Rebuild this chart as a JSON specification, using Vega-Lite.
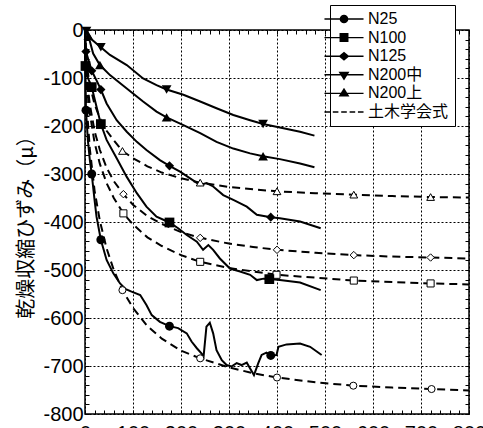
{
  "$schema": "https://vega.github.io/schema/vega-lite/v6.json",
  "width": 384,
  "height": 384,
  "autosize": {"type": "none"},
  "padding": {"left": 85, "top": 30, "right": 14, "bottom": 14},
  "background": "white",
  "config": {
    "font": "Liberation Sans",
    "view": {"stroke": "black", "strokeWidth": 1.5},
    "axis": {
      "domain": false,
      "tickColor": "black",
      "tickWidth": 1,
      "tickSize": -4,
      "labelColor": "black",
      "labelFont": "Liberation Sans",
      "labelFontSize": 20,
      "labelOverlap": false,
      "labelFlush": false,
      "gridColor": "black",
      "gridDash": [2, 2],
      "gridWidth": 1
    },
    "legend": {
      "orient": "none",
      "legendX": 245,
      "legendY": -25,
      "title": null,
      "padding": 6,
      "strokeColor": "black",
      "fillColor": "white",
      "symbolSize": 196,
      "symbolStrokeWidth": 1.4,
      "symbolFillColor": "black",
      "symbolStrokeColor": "black",
      "symbolOpacity": 1,
      "labelFont": "Liberation Sans, Noto Sans CJK JP",
      "labelFontSize": 16,
      "labelColor": "black",
      "labelOffset": 16,
      "rowPadding": 2.6
    }
  },
  "datasets": {
    "curves": [
      {"series": "N25", "curve": "N25", "day": 0, "strain": 0},
      {"series": "N25", "curve": "N25", "day": 2, "strain": -167},
      {"series": "N25", "curve": "N25", "day": 6, "strain": -230},
      {"series": "N25", "curve": "N25", "day": 10, "strain": -270},
      {"series": "N25", "curve": "N25", "day": 14, "strain": -300},
      {"series": "N25", "curve": "N25", "day": 20, "strain": -355},
      {"series": "N25", "curve": "N25", "day": 24, "strain": -389},
      {"series": "N25", "curve": "N25", "day": 33, "strain": -437},
      {"series": "N25", "curve": "N25", "day": 45, "strain": -479},
      {"series": "N25", "curve": "N25", "day": 59, "strain": -507},
      {"series": "N25", "curve": "N25", "day": 73, "strain": -528},
      {"series": "N25", "curve": "N25", "day": 85, "strain": -540},
      {"series": "N25", "curve": "N25", "day": 97, "strain": -545},
      {"series": "N25", "curve": "N25", "day": 115, "strain": -552},
      {"series": "N25", "curve": "N25", "day": 128, "strain": -573},
      {"series": "N25", "curve": "N25", "day": 139, "strain": -594},
      {"series": "N25", "curve": "N25", "day": 156, "strain": -608},
      {"series": "N25", "curve": "N25", "day": 176, "strain": -617},
      {"series": "N25", "curve": "N25", "day": 194, "strain": -621},
      {"series": "N25", "curve": "N25", "day": 212, "strain": -632},
      {"series": "N25", "curve": "N25", "day": 222, "strain": -649},
      {"series": "N25", "curve": "N25", "day": 233, "strain": -663},
      {"series": "N25", "curve": "N25", "day": 243, "strain": -674},
      {"series": "N25", "curve": "N25", "day": 247, "strain": -681},
      {"series": "N25", "curve": "N25", "day": 253, "strain": -618},
      {"series": "N25", "curve": "N25", "day": 260, "strain": -610},
      {"series": "N25", "curve": "N25", "day": 267, "strain": -632},
      {"series": "N25", "curve": "N25", "day": 274, "strain": -667},
      {"series": "N25", "curve": "N25", "day": 285, "strain": -688},
      {"series": "N25", "curve": "N25", "day": 295, "strain": -698},
      {"series": "N25", "curve": "N25", "day": 305, "strain": -701},
      {"series": "N25", "curve": "N25", "day": 316, "strain": -694},
      {"series": "N25", "curve": "N25", "day": 326, "strain": -698},
      {"series": "N25", "curve": "N25", "day": 337, "strain": -693},
      {"series": "N25", "curve": "N25", "day": 344, "strain": -705},
      {"series": "N25", "curve": "N25", "day": 352, "strain": -719},
      {"series": "N25", "curve": "N25", "day": 361, "strain": -694},
      {"series": "N25", "curve": "N25", "day": 368, "strain": -677},
      {"series": "N25", "curve": "N25", "day": 378, "strain": -672},
      {"series": "N25", "curve": "N25", "day": 387, "strain": -678},
      {"series": "N25", "curve": "N25", "day": 399, "strain": -677},
      {"series": "N25", "curve": "N25", "day": 403, "strain": -660},
      {"series": "N25", "curve": "N25", "day": 420, "strain": -655},
      {"series": "N25", "curve": "N25", "day": 448, "strain": -653},
      {"series": "N25", "curve": "N25", "day": 469, "strain": -660},
      {"series": "N25", "curve": "N25", "day": 493, "strain": -677},

      {"series": "N100", "curve": "N100", "day": 0, "strain": 0},
      {"series": "N100", "curve": "N100", "day": 1, "strain": -75},
      {"series": "N100", "curve": "N100", "day": 6, "strain": -100},
      {"series": "N100", "curve": "N100", "day": 14, "strain": -119},
      {"series": "N100", "curve": "N100", "day": 24, "strain": -160},
      {"series": "N100", "curve": "N100", "day": 33, "strain": -196},
      {"series": "N100", "curve": "N100", "day": 45, "strain": -229},
      {"series": "N100", "curve": "N100", "day": 66, "strain": -267},
      {"series": "N100", "curve": "N100", "day": 87, "strain": -306},
      {"series": "N100", "curve": "N100", "day": 108, "strain": -340},
      {"series": "N100", "curve": "N100", "day": 128, "strain": -368},
      {"series": "N100", "curve": "N100", "day": 149, "strain": -389},
      {"series": "N100", "curve": "N100", "day": 176, "strain": -401},
      {"series": "N100", "curve": "N100", "day": 194, "strain": -413},
      {"series": "N100", "curve": "N100", "day": 212, "strain": -427},
      {"series": "N100", "curve": "N100", "day": 233, "strain": -441},
      {"series": "N100", "curve": "N100", "day": 246, "strain": -458},
      {"series": "N100", "curve": "N100", "day": 257, "strain": -448},
      {"series": "N100", "curve": "N100", "day": 267, "strain": -458},
      {"series": "N100", "curve": "N100", "day": 281, "strain": -476},
      {"series": "N100", "curve": "N100", "day": 302, "strain": -497},
      {"series": "N100", "curve": "N100", "day": 323, "strain": -503},
      {"series": "N100", "curve": "N100", "day": 344, "strain": -510},
      {"series": "N100", "curve": "N100", "day": 358, "strain": -521},
      {"series": "N100", "curve": "N100", "day": 372, "strain": -518},
      {"series": "N100", "curve": "N100", "day": 384, "strain": -519},
      {"series": "N100", "curve": "N100", "day": 406, "strain": -521},
      {"series": "N100", "curve": "N100", "day": 448, "strain": -526},
      {"series": "N100", "curve": "N100", "day": 491, "strain": -542},

      {"series": "N125", "curve": "N125", "day": 0, "strain": 0},
      {"series": "N125", "curve": "N125", "day": 2, "strain": -45},
      {"series": "N125", "curve": "N125", "day": 14, "strain": -85},
      {"series": "N125", "curve": "N125", "day": 24, "strain": -105},
      {"series": "N125", "curve": "N125", "day": 33, "strain": -124},
      {"series": "N125", "curve": "N125", "day": 45, "strain": -153},
      {"series": "N125", "curve": "N125", "day": 66, "strain": -188},
      {"series": "N125", "curve": "N125", "day": 87, "strain": -212},
      {"series": "N125", "curve": "N125", "day": 108, "strain": -233},
      {"series": "N125", "curve": "N125", "day": 128, "strain": -250},
      {"series": "N125", "curve": "N125", "day": 156, "strain": -271},
      {"series": "N125", "curve": "N125", "day": 176, "strain": -283},
      {"series": "N125", "curve": "N125", "day": 198, "strain": -295},
      {"series": "N125", "curve": "N125", "day": 219, "strain": -309},
      {"series": "N125", "curve": "N125", "day": 240, "strain": -323},
      {"series": "N125", "curve": "N125", "day": 253, "strain": -319},
      {"series": "N125", "curve": "N125", "day": 267, "strain": -326},
      {"series": "N125", "curve": "N125", "day": 288, "strain": -344},
      {"series": "N125", "curve": "N125", "day": 309, "strain": -354},
      {"series": "N125", "curve": "N125", "day": 337, "strain": -368},
      {"series": "N125", "curve": "N125", "day": 358, "strain": -385},
      {"series": "N125", "curve": "N125", "day": 387, "strain": -390},
      {"series": "N125", "curve": "N125", "day": 406, "strain": -392},
      {"series": "N125", "curve": "N125", "day": 448, "strain": -399},
      {"series": "N125", "curve": "N125", "day": 491, "strain": -413},

      {"series": "N200中", "curve": "N200中", "day": 0, "strain": 0},
      {"series": "N200中", "curve": "N200中", "day": 3, "strain": -2},
      {"series": "N200中", "curve": "N200中", "day": 14, "strain": -20},
      {"series": "N200中", "curve": "N200中", "day": 33, "strain": -36},
      {"series": "N200中", "curve": "N200中", "day": 52, "strain": -52},
      {"series": "N200中", "curve": "N200中", "day": 87, "strain": -73},
      {"series": "N200中", "curve": "N200中", "day": 121, "strain": -101},
      {"series": "N200中", "curve": "N200中", "day": 149, "strain": -115},
      {"series": "N200中", "curve": "N200中", "day": 170, "strain": -124},
      {"series": "N200中", "curve": "N200中", "day": 205, "strain": -135},
      {"series": "N200中", "curve": "N200中", "day": 240, "strain": -149},
      {"series": "N200中", "curve": "N200中", "day": 274, "strain": -163},
      {"series": "N200中", "curve": "N200中", "day": 309, "strain": -177},
      {"series": "N200中", "curve": "N200中", "day": 344, "strain": -188},
      {"series": "N200中", "curve": "N200中", "day": 371, "strain": -196},
      {"series": "N200中", "curve": "N200中", "day": 406, "strain": -203},
      {"series": "N200中", "curve": "N200中", "day": 448, "strain": -212},
      {"series": "N200中", "curve": "N200中", "day": 478, "strain": -220},

      {"series": "N200上", "curve": "N200上", "day": 0, "strain": 0},
      {"series": "N200上", "curve": "N200上", "day": 7, "strain": -12},
      {"series": "N200上", "curve": "N200上", "day": 17, "strain": -49},
      {"series": "N200上", "curve": "N200上", "day": 31, "strain": -73},
      {"series": "N200上", "curve": "N200上", "day": 52, "strain": -94},
      {"series": "N200上", "curve": "N200上", "day": 87, "strain": -122},
      {"series": "N200上", "curve": "N200上", "day": 121, "strain": -149},
      {"series": "N200上", "curve": "N200上", "day": 149, "strain": -170},
      {"series": "N200上", "curve": "N200上", "day": 170, "strain": -182},
      {"series": "N200上", "curve": "N200上", "day": 205, "strain": -198},
      {"series": "N200上", "curve": "N200上", "day": 240, "strain": -215},
      {"series": "N200上", "curve": "N200上", "day": 274, "strain": -233},
      {"series": "N200上", "curve": "N200上", "day": 309, "strain": -247},
      {"series": "N200上", "curve": "N200上", "day": 344, "strain": -257},
      {"series": "N200上", "curve": "N200上", "day": 371, "strain": -263},
      {"series": "N200上", "curve": "N200上", "day": 406, "strain": -269},
      {"series": "N200上", "curve": "N200上", "day": 448, "strain": -278},
      {"series": "N200上", "curve": "N200上", "day": 478, "strain": -286},

      {"series": "土木学会式", "curve": "N25", "day": 0, "strain": 0},
      {"series": "土木学会式", "curve": "N25", "day": 1, "strain": -78},
      {"series": "土木学会式", "curve": "N25", "day": 3, "strain": -138},
      {"series": "土木学会式", "curve": "N25", "day": 5, "strain": -178},
      {"series": "土木学会式", "curve": "N25", "day": 10, "strain": -247},
      {"series": "土木学会式", "curve": "N25", "day": 20, "strain": -335},
      {"series": "土木学会式", "curve": "N25", "day": 31, "strain": -398},
      {"series": "土木学会式", "curve": "N25", "day": 45, "strain": -455},
      {"series": "土木学会式", "curve": "N25", "day": 60, "strain": -500},
      {"series": "土木学会式", "curve": "N25", "day": 78, "strain": -542},
      {"series": "土木学会式", "curve": "N25", "day": 100, "strain": -579},
      {"series": "土木学会式", "curve": "N25", "day": 130, "strain": -617},
      {"series": "土木学会式", "curve": "N25", "day": 160, "strain": -643},
      {"series": "土木学会式", "curve": "N25", "day": 200, "strain": -668},
      {"series": "土木学会式", "curve": "N25", "day": 240, "strain": -684},
      {"series": "土木学会式", "curve": "N25", "day": 300, "strain": -703},
      {"series": "土木学会式", "curve": "N25", "day": 350, "strain": -715},
      {"series": "土木学会式", "curve": "N25", "day": 400, "strain": -724},
      {"series": "土木学会式", "curve": "N25", "day": 480, "strain": -734},
      {"series": "土木学会式", "curve": "N25", "day": 560, "strain": -741},
      {"series": "土木学会式", "curve": "N25", "day": 640, "strain": -745},
      {"series": "土木学会式", "curve": "N25", "day": 720, "strain": -748},
      {"series": "土木学会式", "curve": "N25", "day": 800, "strain": -751},

      {"series": "土木学会式", "curve": "N100", "day": 0, "strain": 0},
      {"series": "土木学会式", "curve": "N100", "day": 1, "strain": -55},
      {"series": "土木学会式", "curve": "N100", "day": 3, "strain": -97},
      {"series": "土木学会式", "curve": "N100", "day": 5, "strain": -125},
      {"series": "土木学会式", "curve": "N100", "day": 10, "strain": -173},
      {"series": "土木学会式", "curve": "N100", "day": 20, "strain": -235},
      {"series": "土木学会式", "curve": "N100", "day": 31, "strain": -279},
      {"series": "土木学会式", "curve": "N100", "day": 45, "strain": -319},
      {"series": "土木学会式", "curve": "N100", "day": 60, "strain": -350},
      {"series": "土木学会式", "curve": "N100", "day": 80, "strain": -382},
      {"series": "土木学会式", "curve": "N100", "day": 100, "strain": -405},
      {"series": "土木学会式", "curve": "N100", "day": 130, "strain": -432},
      {"series": "土木学会式", "curve": "N100", "day": 160, "strain": -450},
      {"series": "土木学会式", "curve": "N100", "day": 200, "strain": -469},
      {"series": "土木学会式", "curve": "N100", "day": 240, "strain": -483},
      {"series": "土木学会式", "curve": "N100", "day": 300, "strain": -496},
      {"series": "土木学会式", "curve": "N100", "day": 350, "strain": -503},
      {"series": "土木学会式", "curve": "N100", "day": 400, "strain": -510},
      {"series": "土木学会式", "curve": "N100", "day": 480, "strain": -516},
      {"series": "土木学会式", "curve": "N100", "day": 560, "strain": -522},
      {"series": "土木学会式", "curve": "N100", "day": 640, "strain": -525},
      {"series": "土木学会式", "curve": "N100", "day": 720, "strain": -528},
      {"series": "土木学会式", "curve": "N100", "day": 800, "strain": -530},

      {"series": "土木学会式", "curve": "N125", "day": 0, "strain": 0},
      {"series": "土木学会式", "curve": "N125", "day": 1, "strain": -49},
      {"series": "土木学会式", "curve": "N125", "day": 3, "strain": -87},
      {"series": "土木学会式", "curve": "N125", "day": 5, "strain": -112},
      {"series": "土木学会式", "curve": "N125", "day": 10, "strain": -155},
      {"series": "土木学会式", "curve": "N125", "day": 20, "strain": -211},
      {"series": "土木学会式", "curve": "N125", "day": 31, "strain": -250},
      {"series": "土木学会式", "curve": "N125", "day": 45, "strain": -287},
      {"series": "土木学会式", "curve": "N125", "day": 60, "strain": -315},
      {"series": "土木学会式", "curve": "N125", "day": 80, "strain": -342},
      {"series": "土木学会式", "curve": "N125", "day": 100, "strain": -364},
      {"series": "土木学会式", "curve": "N125", "day": 130, "strain": -388},
      {"series": "土木学会式", "curve": "N125", "day": 160, "strain": -404},
      {"series": "土木学会式", "curve": "N125", "day": 200, "strain": -421},
      {"series": "土木学会式", "curve": "N125", "day": 240, "strain": -433},
      {"series": "土木学会式", "curve": "N125", "day": 300, "strain": -445},
      {"series": "土木学会式", "curve": "N125", "day": 350, "strain": -452},
      {"series": "土木学会式", "curve": "N125", "day": 400, "strain": -458},
      {"series": "土木学会式", "curve": "N125", "day": 480, "strain": -464},
      {"series": "土木学会式", "curve": "N125", "day": 560, "strain": -469},
      {"series": "土木学会式", "curve": "N125", "day": 640, "strain": -472},
      {"series": "土木学会式", "curve": "N125", "day": 720, "strain": -474},
      {"series": "土木学会式", "curve": "N125", "day": 800, "strain": -476},

      {"series": "土木学会式", "curve": "N200上", "day": 0, "strain": 0},
      {"series": "土木学会式", "curve": "N200上", "day": 1, "strain": -36},
      {"series": "土木学会式", "curve": "N200上", "day": 3, "strain": -64},
      {"series": "土木学会式", "curve": "N200上", "day": 5, "strain": -82},
      {"series": "土木学会式", "curve": "N200上", "day": 10, "strain": -114},
      {"series": "土木学会式", "curve": "N200上", "day": 20, "strain": -155},
      {"series": "土木学会式", "curve": "N200上", "day": 31, "strain": -184},
      {"series": "土木学会式", "curve": "N200上", "day": 45, "strain": -210},
      {"series": "土木学会式", "curve": "N200上", "day": 60, "strain": -230},
      {"series": "土木学会式", "curve": "N200上", "day": 78, "strain": -252},
      {"series": "土木学会式", "curve": "N200上", "day": 100, "strain": -267},
      {"series": "土木学会式", "curve": "N200上", "day": 130, "strain": -284},
      {"series": "土木学会式", "curve": "N200上", "day": 160, "strain": -297},
      {"series": "土木学会式", "curve": "N200上", "day": 200, "strain": -309},
      {"series": "土木学会式", "curve": "N200上", "day": 240, "strain": -318},
      {"series": "土木学会式", "curve": "N200上", "day": 300, "strain": -327},
      {"series": "土木学会式", "curve": "N200上", "day": 350, "strain": -332},
      {"series": "土木学会式", "curve": "N200上", "day": 400, "strain": -336},
      {"series": "土木学会式", "curve": "N200上", "day": 480, "strain": -340},
      {"series": "土木学会式", "curve": "N200上", "day": 560, "strain": -343},
      {"series": "土木学会式", "curve": "N200上", "day": 640, "strain": -346},
      {"series": "土木学会式", "curve": "N200上", "day": 720, "strain": -348},
      {"series": "土木学会式", "curve": "N200上", "day": 800, "strain": -349}
    ],
    "markers": [
      {"series": "N25", "curve": "N25", "day": 2, "strain": -167},
      {"series": "N25", "curve": "N25", "day": 14, "strain": -300},
      {"series": "N25", "curve": "N25", "day": 33, "strain": -437},
      {"series": "N25", "curve": "N25", "day": 176, "strain": -617},
      {"series": "N25", "curve": "N25", "day": 387, "strain": -678},
      {"series": "N100", "curve": "N100", "day": 1, "strain": -75},
      {"series": "N100", "curve": "N100", "day": 14, "strain": -119},
      {"series": "N100", "curve": "N100", "day": 33, "strain": -196},
      {"series": "N100", "curve": "N100", "day": 176, "strain": -401},
      {"series": "N100", "curve": "N100", "day": 384, "strain": -519},
      {"series": "N125", "curve": "N125", "day": 2, "strain": -45},
      {"series": "N125", "curve": "N125", "day": 14, "strain": -85},
      {"series": "N125", "curve": "N125", "day": 33, "strain": -124},
      {"series": "N125", "curve": "N125", "day": 176, "strain": -283},
      {"series": "N125", "curve": "N125", "day": 387, "strain": -390},
      {"series": "N200中", "curve": "N200中", "day": 3, "strain": -2},
      {"series": "N200中", "curve": "N200中", "day": 33, "strain": -36},
      {"series": "N200中", "curve": "N200中", "day": 170, "strain": -124},
      {"series": "N200中", "curve": "N200中", "day": 371, "strain": -196},
      {"series": "N200上", "curve": "N200上", "day": 7, "strain": -12},
      {"series": "N200上", "curve": "N200上", "day": 31, "strain": -73},
      {"series": "N200上", "curve": "N200上", "day": 170, "strain": -182},
      {"series": "N200上", "curve": "N200上", "day": 371, "strain": -263},
      {"series": "土木学会式", "curve": "N25", "day": 78, "strain": -542},
      {"series": "土木学会式", "curve": "N25", "day": 240, "strain": -684},
      {"series": "土木学会式", "curve": "N25", "day": 400, "strain": -724},
      {"series": "土木学会式", "curve": "N25", "day": 559, "strain": -741},
      {"series": "土木学会式", "curve": "N25", "day": 722, "strain": -748},
      {"series": "土木学会式", "curve": "N100", "day": 80, "strain": -382},
      {"series": "土木学会式", "curve": "N100", "day": 240, "strain": -483},
      {"series": "土木学会式", "curve": "N100", "day": 399, "strain": -510},
      {"series": "土木学会式", "curve": "N100", "day": 560, "strain": -522},
      {"series": "土木学会式", "curve": "N100", "day": 720, "strain": -528},
      {"series": "土木学会式", "curve": "N125", "day": 80, "strain": -342},
      {"series": "土木学会式", "curve": "N125", "day": 240, "strain": -433},
      {"series": "土木学会式", "curve": "N125", "day": 400, "strain": -458},
      {"series": "土木学会式", "curve": "N125", "day": 560, "strain": -469},
      {"series": "土木学会式", "curve": "N125", "day": 720, "strain": -474},
      {"series": "土木学会式", "curve": "N200上", "day": 78, "strain": -252},
      {"series": "土木学会式", "curve": "N200上", "day": 240, "strain": -318},
      {"series": "土木学会式", "curve": "N200上", "day": 400, "strain": -336},
      {"series": "土木学会式", "curve": "N200上", "day": 560, "strain": -343},
      {"series": "土木学会式", "curve": "N200上", "day": 720, "strain": -348}
    ]
  },
  "encoding": {
    "x": {"field": "day", "type": "quantitative", "scale": {"domain": [0, 800], "nice": false, "zero": false}, "axis": null},
    "y": {"field": "strain", "type": "quantitative", "scale": {"domain": [-800, 0], "nice": false, "zero": false}, "axis": null}
  },
  "layer": [
    {
      "data": {"name": "curves"},
      "transform": [{"filter": "datum.series !== '土木学会式'"}],
      "mark": {"type": "line", "color": "black", "strokeWidth": 2},
      "encoding": {
        "x": {
          "field": "day", "type": "quantitative",
          "scale": {"domain": [0, 800], "nice": false, "zero": false},
          "axis": {
            "orient": "bottom", "title": null,
            "values": [0,20,40,60,80,100,120,140,160,180,200,220,240,260,280,300,320,340,360,380,400,420,440,460,480,500,520,540,560,580,600,620,640,660,680,700,720,740,760,780,800],
            "labelExpr": "datum.value % 100 === 0 ? '' + datum.value : ''",
            "labelPadding": 13,
            "grid": true,
            "gridOpacity": {"condition": {"test": "datum.value % 100 === 0", "value": 1}, "value": 0}
          }
        },
        "y": {
          "field": "strain", "type": "quantitative",
          "scale": {"domain": [-800, 0], "nice": false, "zero": false},
          "axis": {
            "orient": "left",
            "title": "乾燥収縮ひずみ（μ）",
            "titleFont": "Noto Sans CJK JP",
            "titleFontSize": 20,
            "titleFontWeight": "normal",
            "titleColor": "black",
            "titlePadding": 6,
            "values": [-800,-780,-760,-740,-720,-700,-680,-660,-640,-620,-600,-580,-560,-540,-520,-500,-480,-460,-440,-420,-400,-380,-360,-340,-320,-300,-280,-260,-240,-220,-200,-180,-160,-140,-120,-100,-80,-60,-40,-20,0],
            "labelExpr": "datum.value % 100 === 0 ? '' + datum.value : ''",
            "labelPadding": 6,
            "grid": true,
            "gridOpacity": {"condition": {"test": "datum.value % 100 === 0", "value": 1}, "value": 0}
          }
        },
        "detail": {"field": "curve"}
      }
    },
    {
      "data": {"name": "curves"},
      "transform": [{"filter": "datum.series === '土木学会式'"}],
      "mark": {"type": "line", "color": "black", "strokeWidth": 2, "strokeDash": [8, 5]},
      "encoding": {"detail": {"field": "curve"}}
    },
    {
      "data": {"name": "markers"},
      "transform": [{"filter": "datum.series === '土木学会式' && datum.curve === 'N25'"}],
      "mark": {"type": "point", "shape": "circle", "filled": true, "fill": "white", "stroke": "black", "strokeWidth": 1, "size": 50, "opacity": 1},
      "encoding": {
        "x": {
          "field": "day", "type": "quantitative",
          "scale": {"domain": [0, 800], "nice": false, "zero": false},
          "axis": {
            "orient": "top", "title": null, "labels": false, "grid": false,
            "values": [0,20,40,60,80,100,120,140,160,180,200,220,240,260,280,300,320,340,360,380,400,420,440,460,480,500,520,540,560,580,600,620,640,660,680,700,720,740,760,780,800]
          }
        },
        "y": {
          "field": "strain", "type": "quantitative",
          "scale": {"domain": [-800, 0], "nice": false, "zero": false},
          "axis": {
            "orient": "right", "title": null, "labels": false, "grid": false,
            "values": [-800,-780,-760,-740,-720,-700,-680,-660,-640,-620,-600,-580,-560,-540,-520,-500,-480,-460,-440,-420,-400,-380,-360,-340,-320,-300,-280,-260,-240,-220,-200,-180,-160,-140,-120,-100,-80,-60,-40,-20,0]
          }
        }
      }
    },
    {
      "data": {"name": "markers"},
      "transform": [{"filter": "datum.series === '土木学会式' && datum.curve === 'N100'"}],
      "mark": {"type": "point", "shape": "square", "filled": true, "fill": "white", "stroke": "black", "strokeWidth": 1, "size": 50, "opacity": 1}
    },
    {
      "data": {"name": "markers"},
      "transform": [{"filter": "datum.series === '土木学会式' && datum.curve === 'N125'"}],
      "mark": {"type": "point", "shape": "diamond", "filled": true, "fill": "white", "stroke": "black", "strokeWidth": 1, "size": 55, "opacity": 1}
    },
    {
      "data": {"name": "markers"},
      "transform": [{"filter": "datum.series === '土木学会式' && datum.curve === 'N200上'"}],
      "mark": {"type": "point", "shape": "triangle-up", "filled": true, "fill": "white", "stroke": "black", "strokeWidth": 1, "size": 60, "opacity": 1}
    },
    {
      "data": {"name": "markers"},
      "transform": [{"filter": "datum.series === 'N25'"}],
      "mark": {"type": "point", "shape": "circle", "filled": true, "color": "black", "size": 80, "opacity": 1}
    },
    {
      "data": {"name": "markers"},
      "transform": [{"filter": "datum.series === 'N100'"}],
      "mark": {"type": "point", "shape": "square", "filled": true, "color": "black", "size": 95, "opacity": 1}
    },
    {
      "data": {"name": "markers"},
      "transform": [{"filter": "datum.series === 'N125'"}],
      "mark": {"type": "point", "shape": "diamond", "filled": true, "color": "black", "size": 85, "opacity": 1}
    },
    {
      "data": {"name": "markers"},
      "transform": [{"filter": "datum.series === 'N200中'"}],
      "mark": {"type": "point", "shape": "triangle-down", "filled": true, "color": "black", "size": 95, "opacity": 1}
    },
    {
      "data": {"name": "markers"},
      "transform": [{"filter": "datum.series === 'N200上'"}],
      "mark": {"type": "point", "shape": "triangle-up", "filled": true, "color": "black", "size": 95, "opacity": 1}
    },
    {
      "data": {"name": "markers"},
      "mark": {"type": "point", "filled": false, "stroke": "black", "strokeWidth": 1.4, "opacity": 0},
      "encoding": {
        "shape": {
          "field": "series", "type": "nominal",
          "scale": {
            "domain": ["N25", "N100", "N125", "N200中", "N200上", "土木学会式"],
            "range": [
              "M-2.79,0H2.79M-0.52,0A0.52,0.52,0,1,0,0.52,0A0.52,0.52,0,1,0,-0.52,0ZM-0.34,0A0.34,0.34,0,1,0,0.34,0A0.34,0.34,0,1,0,-0.34,0ZM-0.16,0A0.16,0.16,0,1,0,0.16,0A0.16,0.16,0,1,0,-0.16,0Z",
              "M-2.79,0H2.79M-0.54,-0.54H0.54V0.54H-0.54ZM-0.36,-0.36H0.36V0.36H-0.36ZM-0.18,-0.18H0.18V0.18H-0.18ZM-0.03,-0.03H0.03V0.03H-0.03Z",
              "M-2.79,0H2.79M-0.62,0L0,-0.52L0.62,0L0,0.52ZM-0.372,0L0,-0.312L0.372,0L0,0.312ZM-0.124,0L0,-0.104L0.124,0L0,0.104Z",
              "M-2.79,0H2.79M-0.6,-0.35L0.6,-0.35L0,0.62ZM-0.36,-0.221L0.36,-0.221L0,0.361ZM-0.15,-0.108L0.15,-0.108L0,0.135Z",
              "M-2.79,0H2.79M-0.6,0.35L0.6,0.35L0,-0.62ZM-0.36,0.221L0.36,0.221L0,-0.361ZM-0.15,0.108L0.15,0.108L0,-0.135Z",
              "M-2.79,0H-1.99M-1.6,0H-0.8M-0.4,0H0.4M0.8,0H1.6M1.99,0H2.79"
            ]
          },
          "legend": {
            "symbolOpacity": 1,
            "symbolStrokeColor": "black",
            "symbolStrokeWidth": 1.4,
            "strokeColor": "black",
            "fillColor": "white"
          }
        }
      }
    }
  ],
  "resolve": {
    "axis": {"x": "independent", "y": "independent"}
  }
}
